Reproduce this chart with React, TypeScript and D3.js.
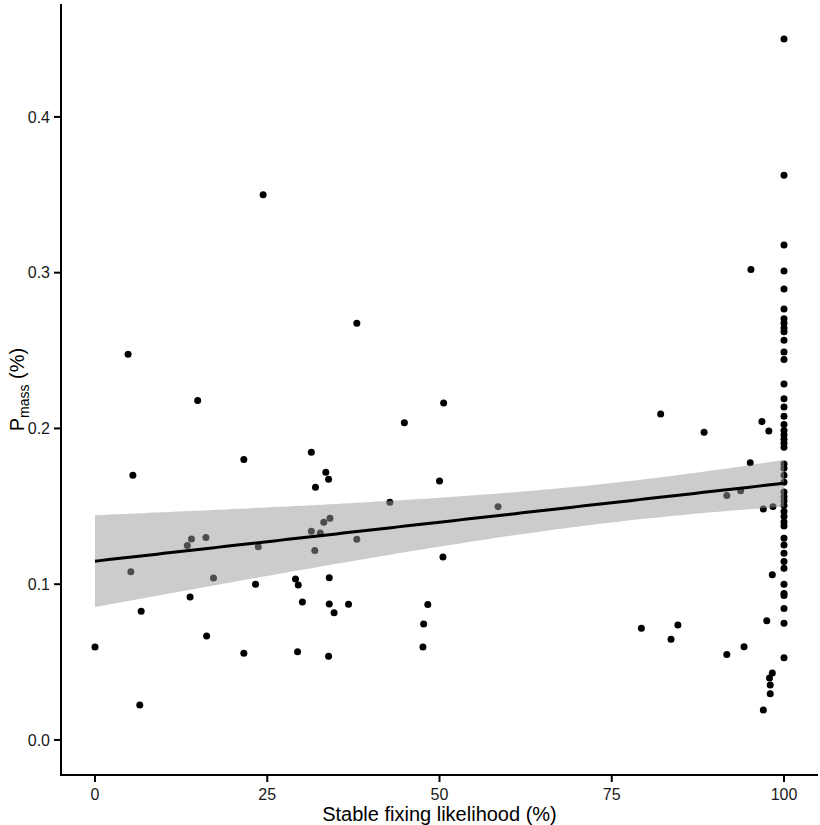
import React from "react";
import * as d3 from "d3";

// Scattered points (x = stable fixing likelihood %, y = P_mass %)
const xScatter = [
  0, 4.8, 5.2, 5.5, 6.5, 6.7, 13.4, 13.8, 14.0, 14.9, 16.1, 16.2, 17.2, 21.6, 21.6, 23.3, 23.7, 24.4,
  29.1, 29.5, 29.4, 30.1, 31.4, 31.4, 31.9, 32.0, 32.7, 33.2, 33.5, 33.9, 33.9, 34.0, 34.0, 34.1, 34.7,
  36.8, 38.0, 38.0, 42.8, 44.9, 47.6, 47.7, 48.3, 50.0, 50.5, 50.6, 58.5, 79.3, 82.1, 83.6, 84.6, 88.4,
  91.7, 91.7, 93.7, 94.2, 95.1, 95.2, 96.8, 97.0, 97.0, 97.5, 97.8, 97.9, 98.0, 98.0, 98.3, 98.3, 98.4,
];
const yScatter = [
  0.0597, 0.2476, 0.108, 0.17, 0.0225, 0.0826, 0.1248, 0.0918, 0.129, 0.218, 0.13, 0.0668, 0.104, 0.18, 0.0557, 0.1, 0.124, 0.35,
  0.1034, 0.0995, 0.0567, 0.0886, 0.1847, 0.134, 0.1216, 0.1622, 0.1329, 0.1398, 0.1719, 0.1674, 0.0537, 0.1042, 0.0873, 0.1423, 0.0817,
  0.0871, 0.2675, 0.1289, 0.1526, 0.2037, 0.0597, 0.0745, 0.0869, 0.1663, 0.1175, 0.2164, 0.1498, 0.0717, 0.2093, 0.0647, 0.0738, 0.1975,
  0.157, 0.0548, 0.16, 0.0599, 0.1779, 0.302, 0.2044, 0.1483, 0.0193, 0.0766, 0.1984, 0.0398, 0.0353, 0.0297, 0.106, 0.043, 0.1498,
];
// Points at 100 % likelihood
const yAt100 = [
  0.45, 0.3625, 0.3178, 0.301, 0.2896, 0.2767, 0.2705, 0.2675, 0.2645, 0.262, 0.2566, 0.249, 0.2442, 0.2286,
  0.2191, 0.2138, 0.2078, 0.2025, 0.1986, 0.1958, 0.1931, 0.1905, 0.188, 0.1772, 0.1745, 0.17, 0.1655, 0.1592,
  0.1562, 0.1535, 0.1505, 0.1466, 0.1434, 0.14, 0.1374, 0.1295, 0.1252, 0.1199, 0.1145, 0.1102, 0.1, 0.094,
  0.0927, 0.0844, 0.0749, 0.0528,
];

// Linear fit: value at x=0 and x=100
const fitEndX = [0, 100];
const fitEndY = [0.1148, 0.1648];
// Half-width of the 95% band read at three x positions
const bandReadX = [0, 67.5, 100];
const bandReadHalf = [0.0295, 0.013, 0.015];

const xTicks = [0, 25, 50, 75, 100];
const yTicks = [0, 0.1, 0.2, 0.3, 0.4];

const W = 820;
const H = 825;
const FONT = "Liberation Sans, Arial, Helvetica, sans-serif";

export default function App() {
  const pts = [
    ...xScatter.map((x, i) => ({ x, y: yScatter[i] })),
    ...yAt100.map((y) => ({ x: 100, y })),
  ];

  const x = d3.scaleLinear().domain([-5, 105]).range([60.55, 818.45]);
  const y = d3.scaleLinear().domain([-0.0225, 0.4725]).range([775, 4]);

  const fit = d3.scaleLinear().domain(fitEndX).range(fitEndY);
  // Confidence band has the hyperbolic shape of an OLS band: w(x)^2 = p + q (x - m)^2
  // Solve p, q from the readings at the two ends, with m chosen so the middle reading fits.
  const solve = (m: number) => {
    const [x0, , x2] = bandReadX;
    const [w0, , w2] = bandReadHalf;
    const q = (w0 * w0 - w2 * w2) / ((x0 - m) ** 2 - (x2 - m) ** 2);
    const p = w0 * w0 - q * (x0 - m) ** 2;
    return { p, q, m };
  };
  let best = solve(70);
  let bestErr = Infinity;
  for (let m = 50; m <= 95; m += 0.25) {
    const c = solve(m);
    const w1 = Math.sqrt(Math.max(c.p + c.q * (bandReadX[1] - m) ** 2, 0));
    const err = Math.abs(w1 - bandReadHalf[1]);
    if (c.p > 0 && c.q > 0 && err < bestErr) {
      bestErr = err;
      best = c;
    }
  }
  const grid = d3.range(0, 101).map((i) => fitEndX[0] + ((fitEndX[1] - fitEndX[0]) * i) / 100);
  const band = grid.map((gx) => {
    const f = fit(gx);
    const w = Math.sqrt(best.p + best.q * (gx - best.m) ** 2);
    return { x: gx, fit: f, lo: f - w, hi: f + w };
  });
  const area = d3
    .area<{ x: number; lo: number; hi: number }>()
    .x((d) => x(d.x))
    .y0((d) => y(d.lo))
    .y1((d) => y(d.hi));
  const line = d3
    .line<{ x: number; fit: number }>()
    .x((d) => x(d.x))
    .y((d) => y(d.fit));

  const left = 61;
  const bottom = 775;

  return (
    <svg
      width={W}
      height={H}
      style={{ position: "absolute", left: 0, top: 0, background: "#fff" }}
      fontFamily={FONT}
    >
      <rect x={0} y={0} width={W} height={H} fill="#fff" />
      {pts.map((p, i) => (
        <circle key={i} cx={x(p.x)} cy={y(p.y)} r={3.5} fill="#000" />
      ))}
      <path d={area(band) || ""} fill="#999999" fillOpacity={0.5} />
      <path d={line(band) || ""} fill="none" stroke="#000" strokeWidth={3} />

      {/* axes */}
      <line x1={left} x2={left} y1={4} y2={bottom + 1} stroke="#000" strokeWidth={2} />
      <line x1={left - 1} x2={818} y1={bottom} y2={bottom} stroke="#000" strokeWidth={2} />
      {yTicks.map((v) => (
        <g key={v}>
          <line x1={left - 7} x2={left} y1={y(v)} y2={y(v)} stroke="#000" strokeWidth={2} />
          <text x={left - 11} y={y(v)} dy="0.36em" textAnchor="end" fontSize={16} fill="#1a1a1a">
            {v.toFixed(1)}
          </text>
        </g>
      ))}
      {xTicks.map((v) => (
        <g key={v}>
          <line x1={x(v)} x2={x(v)} y1={bottom} y2={bottom + 7} stroke="#000" strokeWidth={2} />
          <text x={x(v)} y={800} textAnchor="middle" fontSize={16} fill="#1a1a1a">
            {v}
          </text>
        </g>
      ))}
      <text x={(left + 818) / 2} y={821} textAnchor="middle" fontSize={20} fill="#000">
        Stable fixing likelihood (%)
      </text>
      <text
        transform={`translate(24, ${(4 + bottom) / 2}) rotate(-90)`}
        textAnchor="middle"
        fontSize={20}
        fill="#000"
      >
        P<tspan fontSize={14} dy={5}>mass</tspan>
        <tspan dy={-5}> (%)</tspan>
      </text>
    </svg>
  );
}
